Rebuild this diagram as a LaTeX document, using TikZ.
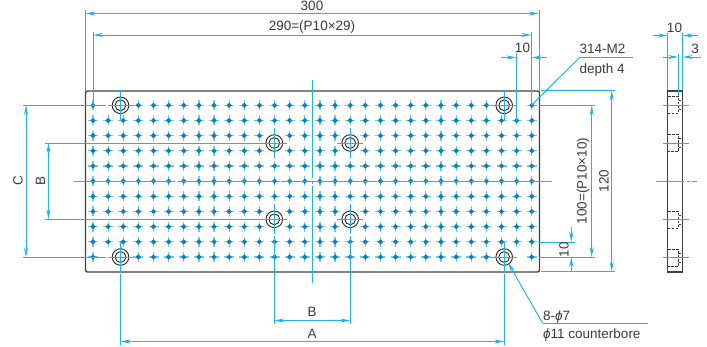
\documentclass[tikz,border=0pt]{standalone}
\usepackage{fontspec}
\setmainfont{Liberation Sans}
\usetikzlibrary{arrows.meta}
\definecolor{cy}{HTML}{1FB2EC}
\definecolor{cyl}{HTML}{6CCDF3}
\definecolor{dk}{HTML}{0E7FB8}
\definecolor{tx}{HTML}{3A3A3A}
\tikzset{
 x=1pt,y=-1pt,
 cyline/.style={draw=cy,line width=.95pt},
 dimb/.style={cyline,{Stealth[length=10pt,width=4pt]}-{Stealth[length=10pt,width=4pt]}},
 dimr/.style={cyline,-{Stealth[length=10pt,width=4pt]}},
 lbl/.style={text=tx,font=\fontsize{13.5}{15}\selectfont,inner sep=0pt},
 outl/.style={draw=black!75,line width=1.3pt},
 hid/.style={draw=black!80,line width=.8pt,dash pattern=on 2.5pt off 1.5pt},
}
\begin{document}
\begin{tikzpicture}
\useasboundingbox (0,0) rectangle (707,346);
% plate
\draw[outl,rounded corners=2pt] (85.5,91) rectangle (539.5,272);
% tapped holes
\foreach \c in {0,...,29}{
 \foreach \r in {0,...,10}{
  \pgfmathsetmacro\sk{((\r==0||\r==10)&&(\c==1||\c==2||\c==27||\c==28))||((\r==2||\r==3||\r==7||\r==8)&&(\c==12||\c==17))?1:0}
  \ifdim\sk pt<0.5pt
   \pgfmathsetmacro\px{93+15.13*\c}
   \pgfmathsetmacro\py{105.3+15.17*\r}
   \draw[cyl,line width=1.2pt] (\px-5,\py) -- (\px+5,\py) (\px,\py-5) -- (\px,\py+5);
   \fill[dk] (\px-2.7,\py) -- (\px,\py-2.7) -- (\px+2.7,\py) -- (\px,\py+2.7) -- cycle;
  \fi
 }
}
% counterbored holes
\foreach \n/\hx/\hy in {a/120.5/105.3,b/504.2/105.3,c/120.5/257,d/504.2/257,e/274.3/143,f/350.2/143,g/274.3/219.3,h/350.2/219.3}{
 \coordinate (\n) at (\hx,\hy);
 \draw[black!85,line width=.9pt] (\n) circle[radius=8.3] (\n) circle[radius=5.4];
 \draw[cyline] (\hx-13,\hy) -- (\hx+13,\hy) (\hx,\hy-15) -- (\hx,\hy+15);
}
% centre lines
\draw[cyline,dash pattern=on 96pt off 2.5pt on 2.5pt off 2.5pt] (74,181) -- (552,181);
\draw[cyline,dash pattern=on 98pt off 2.5pt on 3pt off 2.5pt on 200pt] (312,80) -- (312,283);
% top dims
\draw[cyline] (85.5,10) -- (85.5,91) (539,10) -- (539,91);
\draw[dimb] (85.5,13.5) -- (539,13.5);
\node[lbl] (t300) at (312,5.5) {300};
\draw[cyline] (93,32) -- (93,106);
\draw[cyline] (531.5,32) -- (531.5,106);
\draw[dimb] (93,35) -- (531.5,35);
\node[lbl] (t290) at (312,27) {290=(P10×29)};
\draw[cyline] (516.5,53) -- (516.5,121);
\draw[dimr] (501,57.5) -- (516.5,57.5);
\draw[dimr] (547,57.5) -- (531.5,57.5);
\node[lbl] (t10a) at (522.5,47.5) {10};
% M2 label
\node[lbl,anchor=base west] (tm) at (579.5,53) {314-M2};
\node[lbl,anchor=base west] (td) at (579.5,73) {depth 4};
\coordinate (lm) at (633,57.5);
\coordinate (lk) at (579.5,57.5);
\draw[cyline] (lm) -- (lk) -- (531.5,105.3);
% right dims
\draw[cyline] (541,90.5) -- (615,90.5) (541,271.7) -- (615,271.7);
\draw[cyline] (539,105.5) -- (595,105.5) (539,257) -- (595,257);
\draw[cyline] (538,242) -- (575,242);
\draw[dimb] (611.7,90.5) -- (611.7,271.7);
\draw[dimb] (591.7,105.5) -- (591.7,257);
\node[lbl,rotate=90] (t120) at (604,181) {120};
\node[lbl,rotate=90] (t100) at (583,181) {100=(P10×10)};
\draw[dimr] (571.3,226.5) -- (571.3,242);
\draw[dimr] (571.3,272) -- (571.3,257);
\node[lbl,rotate=90] (t10b) at (564,249.5) {10};
% left dims
\draw[cyline] (23,105) -- (106,105) (23,257.5) -- (106,257.5);
\draw[cyline] (45,143) -- (262,143) (45,219.3) -- (262,219.3);
\draw[dimb] (26,105) -- (26,257.5);
\draw[dimb] (48.5,143) -- (48.5,219.3);
\node[lbl,rotate=90] (tc) at (18,181) {C};
\node[lbl,rotate=90] (tb) at (40.5,181) {B};
% bottom dims
\draw[cyline] (120.5,274) -- (120.5,345) (504.2,274) -- (504.2,345);
\draw[cyline] (274.3,236) -- (274.3,324) (350.2,236) -- (350.2,324);
\draw[dimb] (120.5,341.5) -- (504.2,341.5);
\draw[dimb] (274.3,320.5) -- (350.2,320.5);
\node[lbl] (tb2) at (312,311.5) {B};
\node[lbl] (ta) at (312,334) {A};
% counterbore label
\node[lbl,anchor=base west] (t8) at (543,320) {8-\textit{ϕ}7};
\node[lbl,anchor=base west] (tphi) at (543,338.5) {\textit{ϕ}11 counterbore};
\coordinate (lc) at (542.5,323);
\coordinate (le) at (648,323);
\draw[cyline] (le) -- (lc);
\draw[dimr] (lc) -- (508,262.5);
% side view
\draw[outl] (667.7,91) rectangle (682.7,272);
\foreach \ya/\yb in {96/113,134.5/151,211/228,249.5/266}{
 \draw[hid] (668,\ya) -- (678.5,\ya) -- (678.5,\yb) -- (668,\yb);
 \draw[hid] (678.5,\ya+4) -- (681,\ya+4) (678.5,\yb-4) -- (681,\yb-4);
}
\draw[cyline] (667.7,33) -- (667.7,90) (682.7,33) -- (682.7,90);
\draw[cyline] (678.3,54) -- (678.3,96);
\draw[dimr] (652.5,35.5) -- (667.7,35.5);
\draw[dimr] (698,35.5) -- (682.7,35.5);
\draw[dimr] (663,57) -- (678.3,57);
\draw[dimr] (701,57) -- (682.7,57);
\node[lbl] (t10c) at (674.5,28) {10};
\node[lbl] (t3) at (695,49) {3};
\foreach \sy in {105,143,219.5,257}{
 \draw[cyline] (663,\sy) -- (689,\sy);
}
\draw[cyline,dash pattern=on 28pt off 3pt on 3pt off 2pt on 7pt] (656,181) -- (697,181);
\end{tikzpicture}
\end{document}
